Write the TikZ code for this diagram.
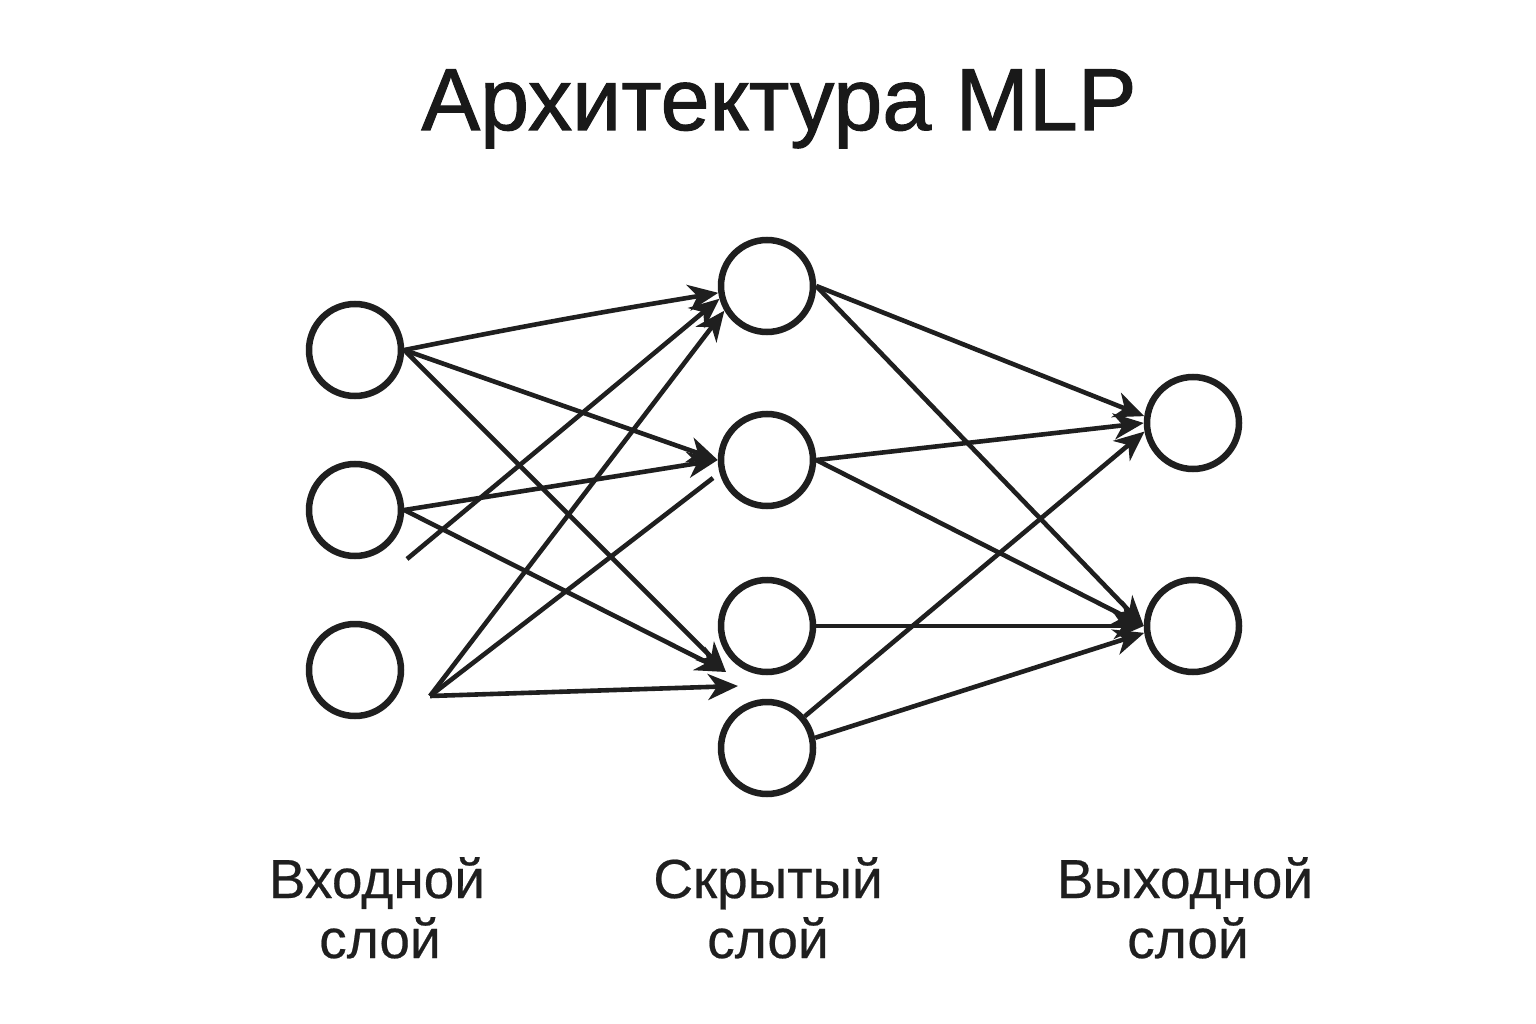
\documentclass[tikz,border=0pt]{standalone}
\usepackage{fontspec}
\setmainfont{Liberation Sans}
\newfontfamily\titlefont{Liberation Sans}[FakeBold=1.2]
\newfontfamily\lblfont{Liberation Sans}[FakeBold=0.4]
\usetikzlibrary{arrows.meta}
\begin{document}
\begin{tikzpicture}[x=1pt,y=-1pt,
  neuron/.style={circle,draw=black!88,line width=6.5pt,minimum size=92pt,inner sep=0pt},
  conn/.style={draw=black!88,line width=4.6pt},
  arr/.style={conn,-{Stealth[length=30pt,width=26pt,inset=9pt]}},
  lbl/.style={anchor=base,font=\lblfont\fontsize{55}{60}\selectfont,text=black!88,align=center},
  ttl/.style={anchor=base,font=\titlefont\fontsize{88}{90}\selectfont,text=black!90}]
\useasboundingbox (0,0) rectangle (1536,1024);
\fill[white] (0,0) rectangle (1536,1024);

\node[ttl] (title) at (779,130) {Архитектура MLP};

% input layer
\node[neuron] (i1) at (355,350) {};
\node[neuron] (i2) at (355,510) {};
\node[neuron] (i3) at (355,670) {};
% hidden layer
\node[neuron] (h1) at (767,286) {};
\node[neuron] (h2) at (767,460) {};
\node[neuron] (h3) at (767,626) {};
\node[neuron] (h4) at (767,748) {};
% output layer
\node[neuron] (o1) at (1193,423) {};
\node[neuron] (o2) at (1193,626) {};

% free points
\coordinate (f1) at (407,559);
\coordinate (s3) at (430,696);
\coordinate (b3) at (726,672);
\coordinate (e2) at (713,478);
\coordinate (t4) at (738,686);

% input -> hidden
\draw[arr] (i1.east) to[bend left=1] (h1.188);
\draw[arr] (i1.east) -- (h2.west);
\draw[arr] (i1.east) -- (b3);
\draw[arr] (i2.east) -- (h2.west);
\draw[arr] (i2.east) -- (b3);
\draw[arr] (f1) -- (h1.195);
\draw[arr] (s3) -- (h1.210);
\draw[conn] (s3) -- (e2);
\draw[arr] (s3) -- (t4);

% hidden -> output
\draw[arr] (h1.east) -- (o1.172);
\draw[arr] (h1.east) -- (o2.west);
\draw[arr] (h2.east) -- (o1.west);
\draw[arr] (h2.east) -- (o2.west);
\draw[arr] (h3.east) -- (o2.west);
\draw[arr] (h4.40) -- (o1.190);
\draw[arr] (h4.12) -- (o2.188);

% labels
\node[lbl] (l1a) at (377,898) {Входной};
\node[lbl] (l1b) at (380,958) {слой};
\node[lbl] (l2a) at (768,898) {Скрытый};
\node[lbl] (l2b) at (768,958) {слой};
\node[lbl] (l3a) at (1185,898) {Выходной};
\node[lbl] (l3b) at (1188,958) {слой};
\end{tikzpicture}
\end{document}
